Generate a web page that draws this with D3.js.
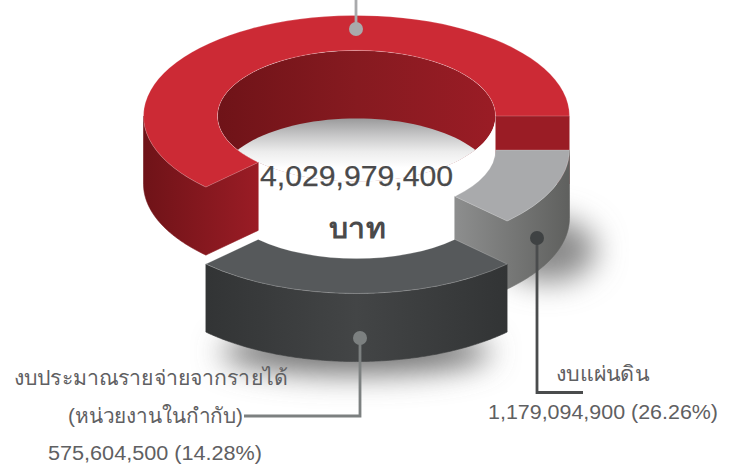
<!DOCTYPE html>
<html><head><meta charset="utf-8">
<script src="https://cdn.jsdelivr.net/npm/d3@7"></script>
<style>
html,body{margin:0;padding:0;background:#fff}
svg{display:block}
text{font-family:"Liberation Sans","Noto Sans",sans-serif;fill:#5f6062}
</style></head><body>
<svg id="c" width="732" height="465"></svg>
<script>
const segmentNames = ["งบแผ่นดิน","งบประมาณรายจ่ายจากรายได้ (หน่วยงานในกำกับ)","เงินนอกงบประมาณ"];
const budgetValues = ["1,179,094,900 (26.26%)","575,604,500 (14.28%)",""];
const drawnSweep = [45,90,225];
const segmentDrop = [34,77,0];
const topColors = ["#a9aaac","#56595b","#cc2a35"];
const wallColors = [["#8d8e8e","#5f605e"],["#323435","#434546","#323435"],["#6f1318","#9a1c25"]];
const innerWall = ["#6f1318","#861a20","#9a1c25"];
const floorColors = ["#9a9a9b","#c6c6c7","#ececec","#ffffff"];
const totalText = "4,029,979,400";
const unitText = "บาท";
const W=732,H=465,cx=356.5,cy=116,rO=213,rI=139,k=0.472,depth=68;

const svg=d3.select("#c");
const defs=svg.append("defs");
function grad(id,stops,x1,x2,y1,y2){
  const g=defs.append("linearGradient").attr("id",id).attr("gradientUnits","userSpaceOnUse")
    .attr("x1",x1).attr("x2",x2).attr("y1",y1).attr("y2",y2);
  stops.forEach((c,i)=>g.append("stop").attr("offset",i/(stops.length-1)).attr("stop-color",c));
}
defs.append("filter").attr("id","blur").attr("x","-60%").attr("y","-120%").attr("width","220%").attr("height","340%")
  .append("feGaussianBlur").attr("stdDeviation",15);

const pie=d3.pie().sort(null).startAngle(Math.PI/2).endAngle(Math.PI/2+2*Math.PI).value(d=>d);
const arcs=pie(drawnSweep);
const ringArc=d3.arc().innerRadius(rI).outerRadius(rO);
const pt=(r,a,y0)=>[cx+r*Math.sin(a),y0-r*Math.cos(a)*k];
const line=d3.line();
const angles=(a0,a1)=>d3.range(0,121).map(i=>a0+(a1-a0)*i/120);
const fullCircle=(r,y0)=>line(angles(0,2*Math.PI).map(a=>pt(r,a,y0)))+"Z";

// shadows
svg.append("ellipse").attr("cx",548).attr("cy",250).attr("rx",48).attr("ry",32).attr("fill","#8a8a8a").attr("filter","url(#blur)");
svg.append("ellipse").attr("cx",356).attr("cy",352).attr("rx",135).attr("ry",22).attr("fill","#707070").attr("filter","url(#blur)");

// inner wall and floor seen through the red ring
defs.append("clipPath").attr("id","holeClip").append("path").attr("d",fullCircle(rI,cy));
grad("gInner",innerWall,cx-rI,cx+rI,0,0);
grad("gFloor",floorColors,0,0,cy+depth-65.6,cy+depth-16);
const hole=svg.append("g").attr("clip-path","url(#holeClip)");
hole.append("path").attr("d",fullCircle(rI,cy)).attr("fill","url(#gInner)");
hole.append("path").attr("d",fullCircle(rI,cy+depth)).attr("fill","url(#gFloor)");

// back to front: red, grey, dark
[2,0,1].forEach(i=>{
  const d=arcs[i], y0=cy+segmentDrop[i];
  const g=svg.append("g");
  const a0=Math.max(d.startAngle,Math.PI/2), a1=Math.min(d.endAngle,3*Math.PI/2);
  const ang=angles(a0,a1);
  let wall=line(ang.map(a=>pt(rO,a,y0)).concat(ang.slice().reverse().map(a=>pt(rO,a,y0+depth))))+"Z";
  let xs;
  if(i==2){
    const a=d.startAngle, e=d.endAngle;
    wall+=line([pt(rO,a,y0),pt(rI,a,y0),pt(rI,a,y0+depth),pt(rO,a,y0+depth)])+"Z";
    g.append("path").attr("fill",innerWall[2]).attr("d",line([pt(rI,e,y0),pt(rO,e,y0),pt(rO,e,y0+depth),pt(rI,e,y0+depth)])+"Z");
    xs=[cx-rO,pt(rI,a,y0)[0]];
  } else if(i==0){
    const a=d.endAngle;
    wall+=line([pt(rO,a,y0),pt(rI,a,y0),pt(rI,a,y0+depth),pt(rO,a,y0+depth)])+"Z";
    xs=[pt(rI,a,y0)[0],cx+rO];
  } else {
    xs=[pt(rO,d.endAngle,y0)[0],pt(rO,d.startAngle,y0)[0]];
  }
  grad("gWall"+i,wallColors[i],xs[0],xs[1],0,0);
  g.append("path").attr("fill",`url(#gWall${i})`).attr("stroke",`url(#gWall${i})`).attr("stroke-width",0.6).attr("d",wall);
  g.append("path").attr("transform",`translate(${cx},${y0}) scale(1,${k})`)
    .attr("d",ringArc(d)).attr("fill",topColors[i])
    .attr("stroke","#fff").attr("stroke-opacity",0.3).attr("stroke-width",0.7).attr("vector-effect","non-scaling-stroke");
});

// leader lines
const lead=(pts,col)=>svg.append("path").attr("d",line(pts)).attr("fill","none").attr("stroke",col).attr("stroke-width",2.8);
const dot=(p,col)=>svg.append("circle").attr("cx",p[0]).attr("cy",p[1]).attr("r",7).attr("fill",col);
lead([[356,0],[356,29]],"#a9aaac"); dot([356,29],"#a9aaac");
lead([[537,238],[537,392.5],[583,392.5]],"#4a4c4d"); dot([537,238],"#3f4243");
lead([[360,338],[360,416],[244,416]],"#7c8080"); dot([360,338],"#7c8080");

// texts
const label=(t,x0,x1,y,s,w)=>svg.append("text").text(t).attr("x",x0).attr("y",y).attr("font-size",s)
  .attr("font-weight",w||400).attr("textLength",x1-x0).attr("lengthAdjust","spacingAndGlyphs");
label(totalText,260,453,186,29).attr("stroke","#4a4a4b").attr("stroke-width",0.25).style("fill","#4a4a4b");
label(unitText,329,385,238,28,700).style("fill","#4a4a4b");
label("งบประมาณรายจ่ายจากรายได้",14,288,385,21);
label("(หน่วยงานในกำกับ)",68,243,423,21);
label(budgetValues[1],48,262,460,19.5);
label("งบแผ่นดิน",556,649,381,21);
label(budgetValues[0],488,718,419,20);
</script></body></html>
